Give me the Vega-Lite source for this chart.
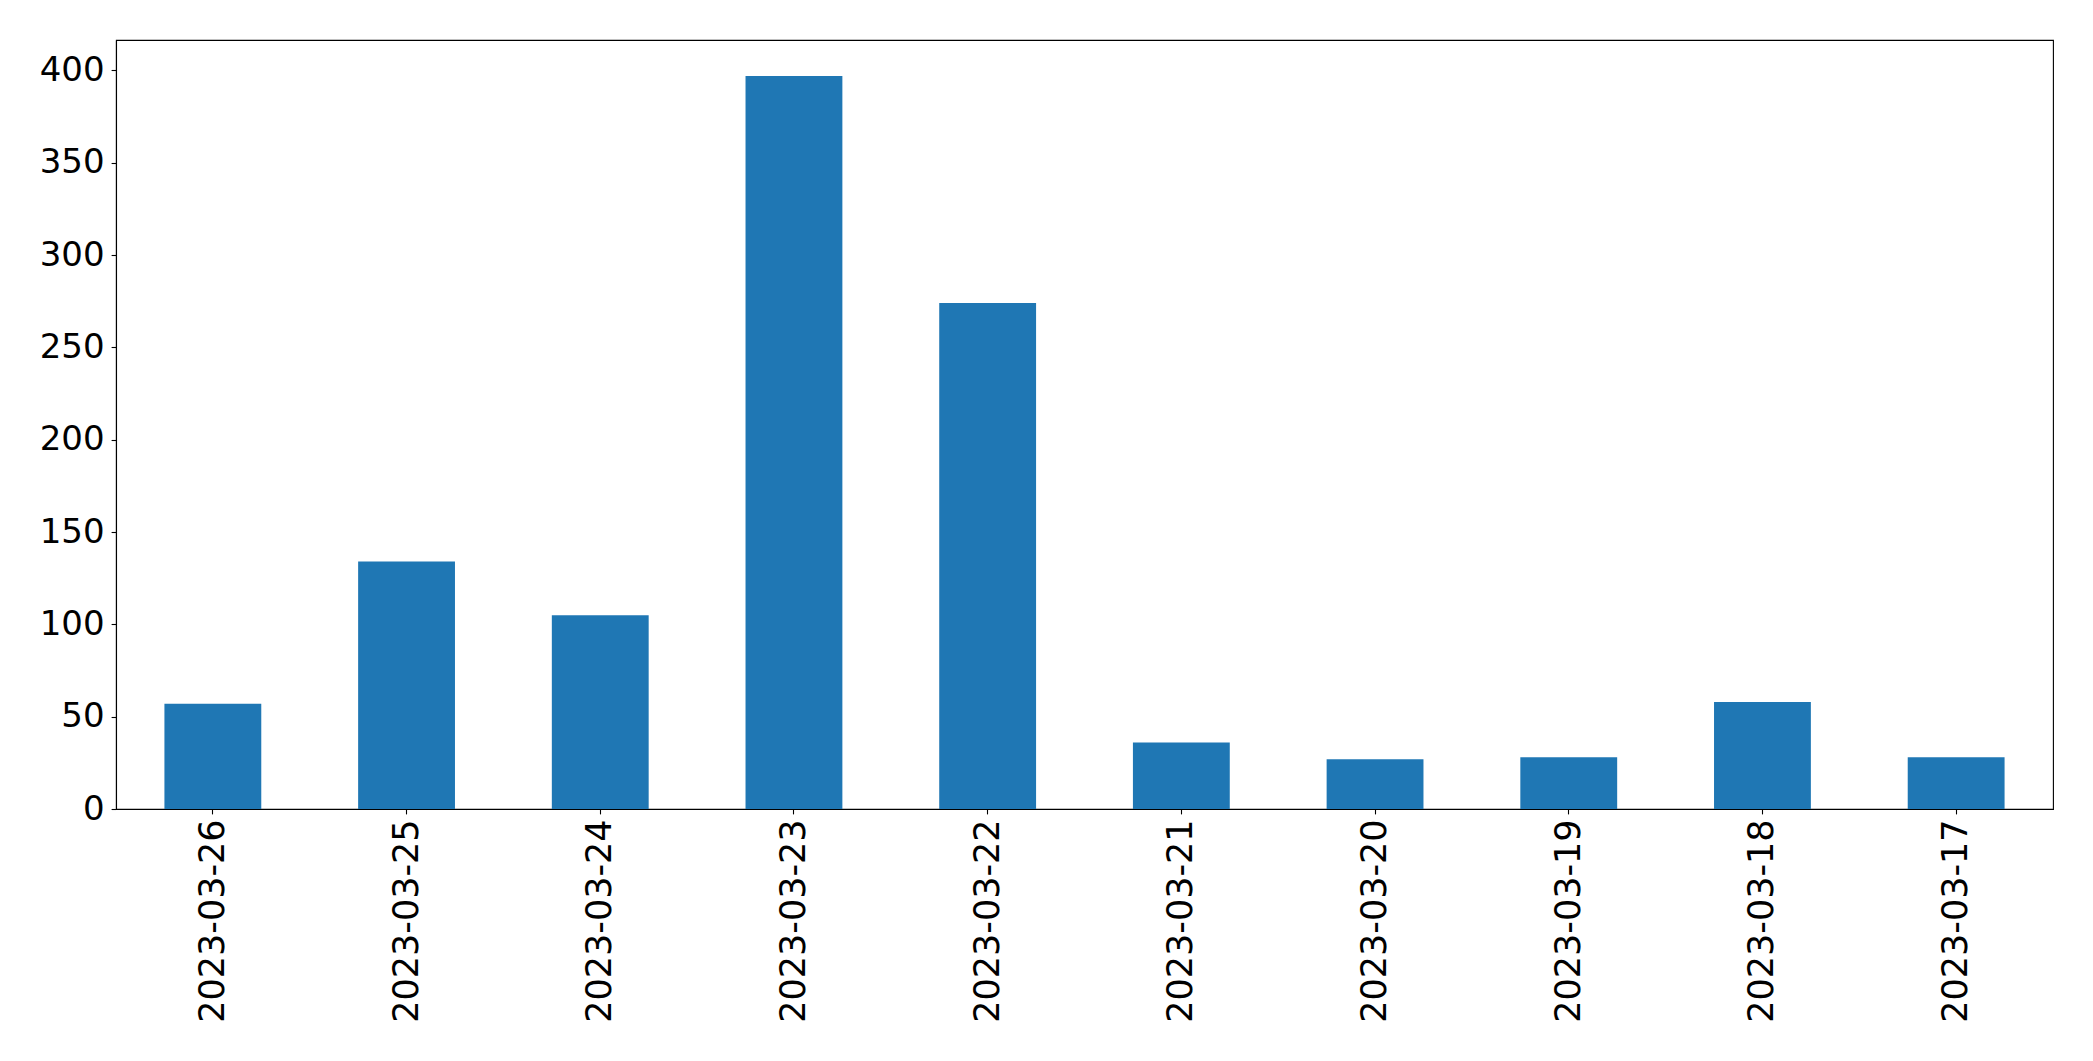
{
  "$schema": "https://vega.github.io/schema/vega-lite/v6.json",
  "autosize": {"type": "none"},
  "padding": {"left": 116, "top": 40, "right": 40, "bottom": 252},
  "width": 1937,
  "height": 769,
  "background": "white",
  "data": {
    "values": [
      {"date": "2023-03-26", "count": 57},
      {"date": "2023-03-25", "count": 134},
      {"date": "2023-03-24", "count": 105},
      {"date": "2023-03-23", "count": 397},
      {"date": "2023-03-22", "count": 274},
      {"date": "2023-03-21", "count": 36},
      {"date": "2023-03-20", "count": 27},
      {"date": "2023-03-19", "count": 28},
      {"date": "2023-03-18", "count": 58},
      {"date": "2023-03-17", "count": 28}
    ]
  },
  "mark": {"type": "bar", "color": "#1f77b4"},
  "encoding": {
    "x": {
      "field": "date",
      "type": "nominal",
      "sort": null,
      "scale": {"paddingInner": 0.5, "paddingOuter": 0.25},
      "axis": {
        "title": null,
        "labelAngle": -90,
        "labelFont": "DejaVu Sans",
        "labelFontSize": 35,
        "labelColor": "#000",
        "labelPadding": 5,
        "labelLimit": 0,
        "tickColor": "#000",
        "tickSize": 4.9,
        "tickWidth": 1.1,
        "domainColor": "#000",
        "domainWidth": 1.1,
        "grid": false
      }
    },
    "y": {
      "field": "count",
      "type": "quantitative",
      "scale": {"domain": [0, 416.5], "nice": false, "zero": true},
      "axis": {
        "title": null,
        "values": [0, 50, 100, 150, 200, 250, 300, 350, 400],
        "labelFont": "DejaVu Sans",
        "labelFontSize": 34,
        "labelColor": "#000",
        "labelPadding": 7,
        "labelLimit": 0,
        "tickColor": "#000",
        "tickSize": 4.9,
        "tickWidth": 1.1,
        "domainColor": "#000",
        "domainWidth": 1.1,
        "grid": false
      }
    }
  },
  "config": {
    "view": {"stroke": "#000", "strokeWidth": 1.1}
  }
}
